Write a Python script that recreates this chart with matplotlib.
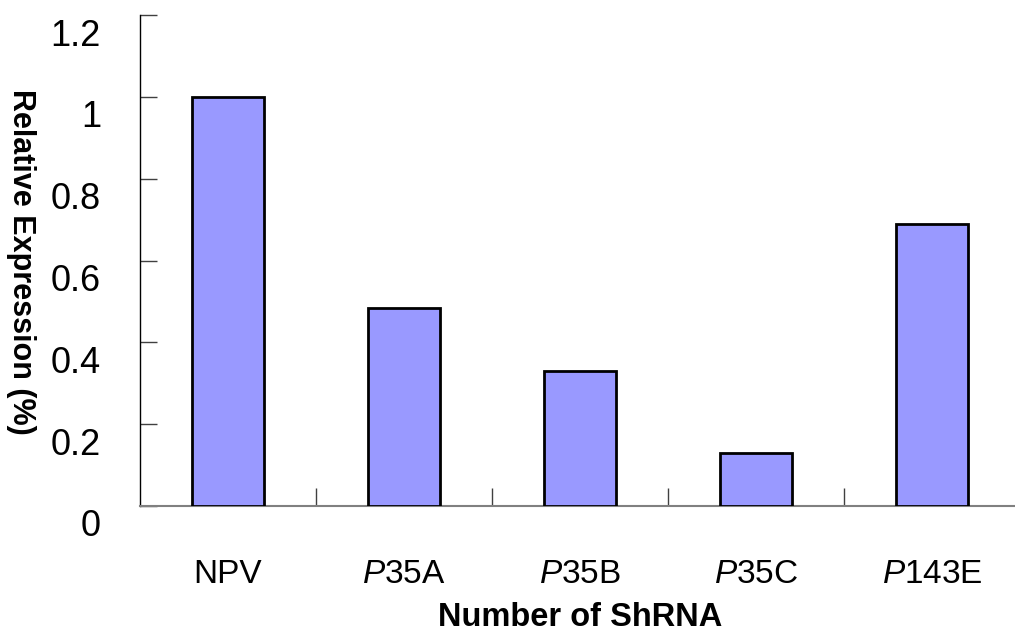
import matplotlib
matplotlib.use("Agg")
import matplotlib.pyplot as plt
import matplotlib.transforms as mtransforms
import numpy as np

plt.rcParams['font.family'] = ['Liberation Sans', 'DejaVu Sans']
plt.rcParams['mathtext.fontset'] = 'custom'
plt.rcParams['mathtext.rm'] = 'Liberation Sans'
plt.rcParams['mathtext.it'] = 'Liberation Sans:italic'

categories = ["NPV", r"$\it{P}$35A", r"$\it{P}$35B", r"$\it{P}$35C", r"$\it{P}$143E"]
values = [1.0, 0.485, 0.33, 0.13, 0.69]
yticks = [0, 0.2, 0.4, 0.6, 0.8, 1.0, 1.2]
yticklabels = ["0", "0.2", "0.4", "0.6", "0.8", "1", "1.2"]

fig = plt.figure(figsize=(10.15, 6.4), dpi=100)
ax = fig.add_axes([140/1015, 1-506/640, (1020-140)/1015, (506-15)/640])

x = np.arange(len(categories))
ax.bar(x, values, width=0.41, color="#9999FF", edgecolor="black", linewidth=2.0, zorder=3)

ax.set_xlim(-0.5, len(categories) - 0.5)
ax.set_ylim(0, 1.2)

for s in ["top", "right"]:
    ax.spines[s].set_visible(False)
ax.spines["left"].set_color("black")
ax.spines["left"].set_linewidth(1.0)
ax.spines["bottom"].set_color("#808080")
ax.spines["bottom"].set_linewidth(1.5)

ax.set_yticks(yticks)
ax.set_yticklabels(yticklabels, fontsize=26)
ax.tick_params(axis="y", direction="in", length=12, width=1, color="#404040", pad=28)

ax.set_xticks(x)
ax.set_xticklabels(categories, fontsize=24)
ax.tick_params(axis="x", which="major", length=0, pad=38)
ax.set_xticks(np.arange(0.5, len(categories) - 0.5, 1.0), minor=True)
ax.tick_params(axis="x", which="minor", direction="in", length=13, width=1, color="#404040")

offset = mtransforms.ScaledTranslation(0, -17/100, fig.dpi_scale_trans)
for lab in ax.get_yticklabels():
    lab.set_transform(lab.get_transform() + offset)

fig.text(580/1015, 1-617/640, "Number of ShRNA", fontsize=23.5, fontweight="bold",
         ha="center", va="center")
fig.text(21/1015, 1-262/640, "Relative Expression (%)", rotation=-90, fontsize=22,
         fontweight="bold", ha="center", va="center")

fig.savefig("out.png", dpi=100)
